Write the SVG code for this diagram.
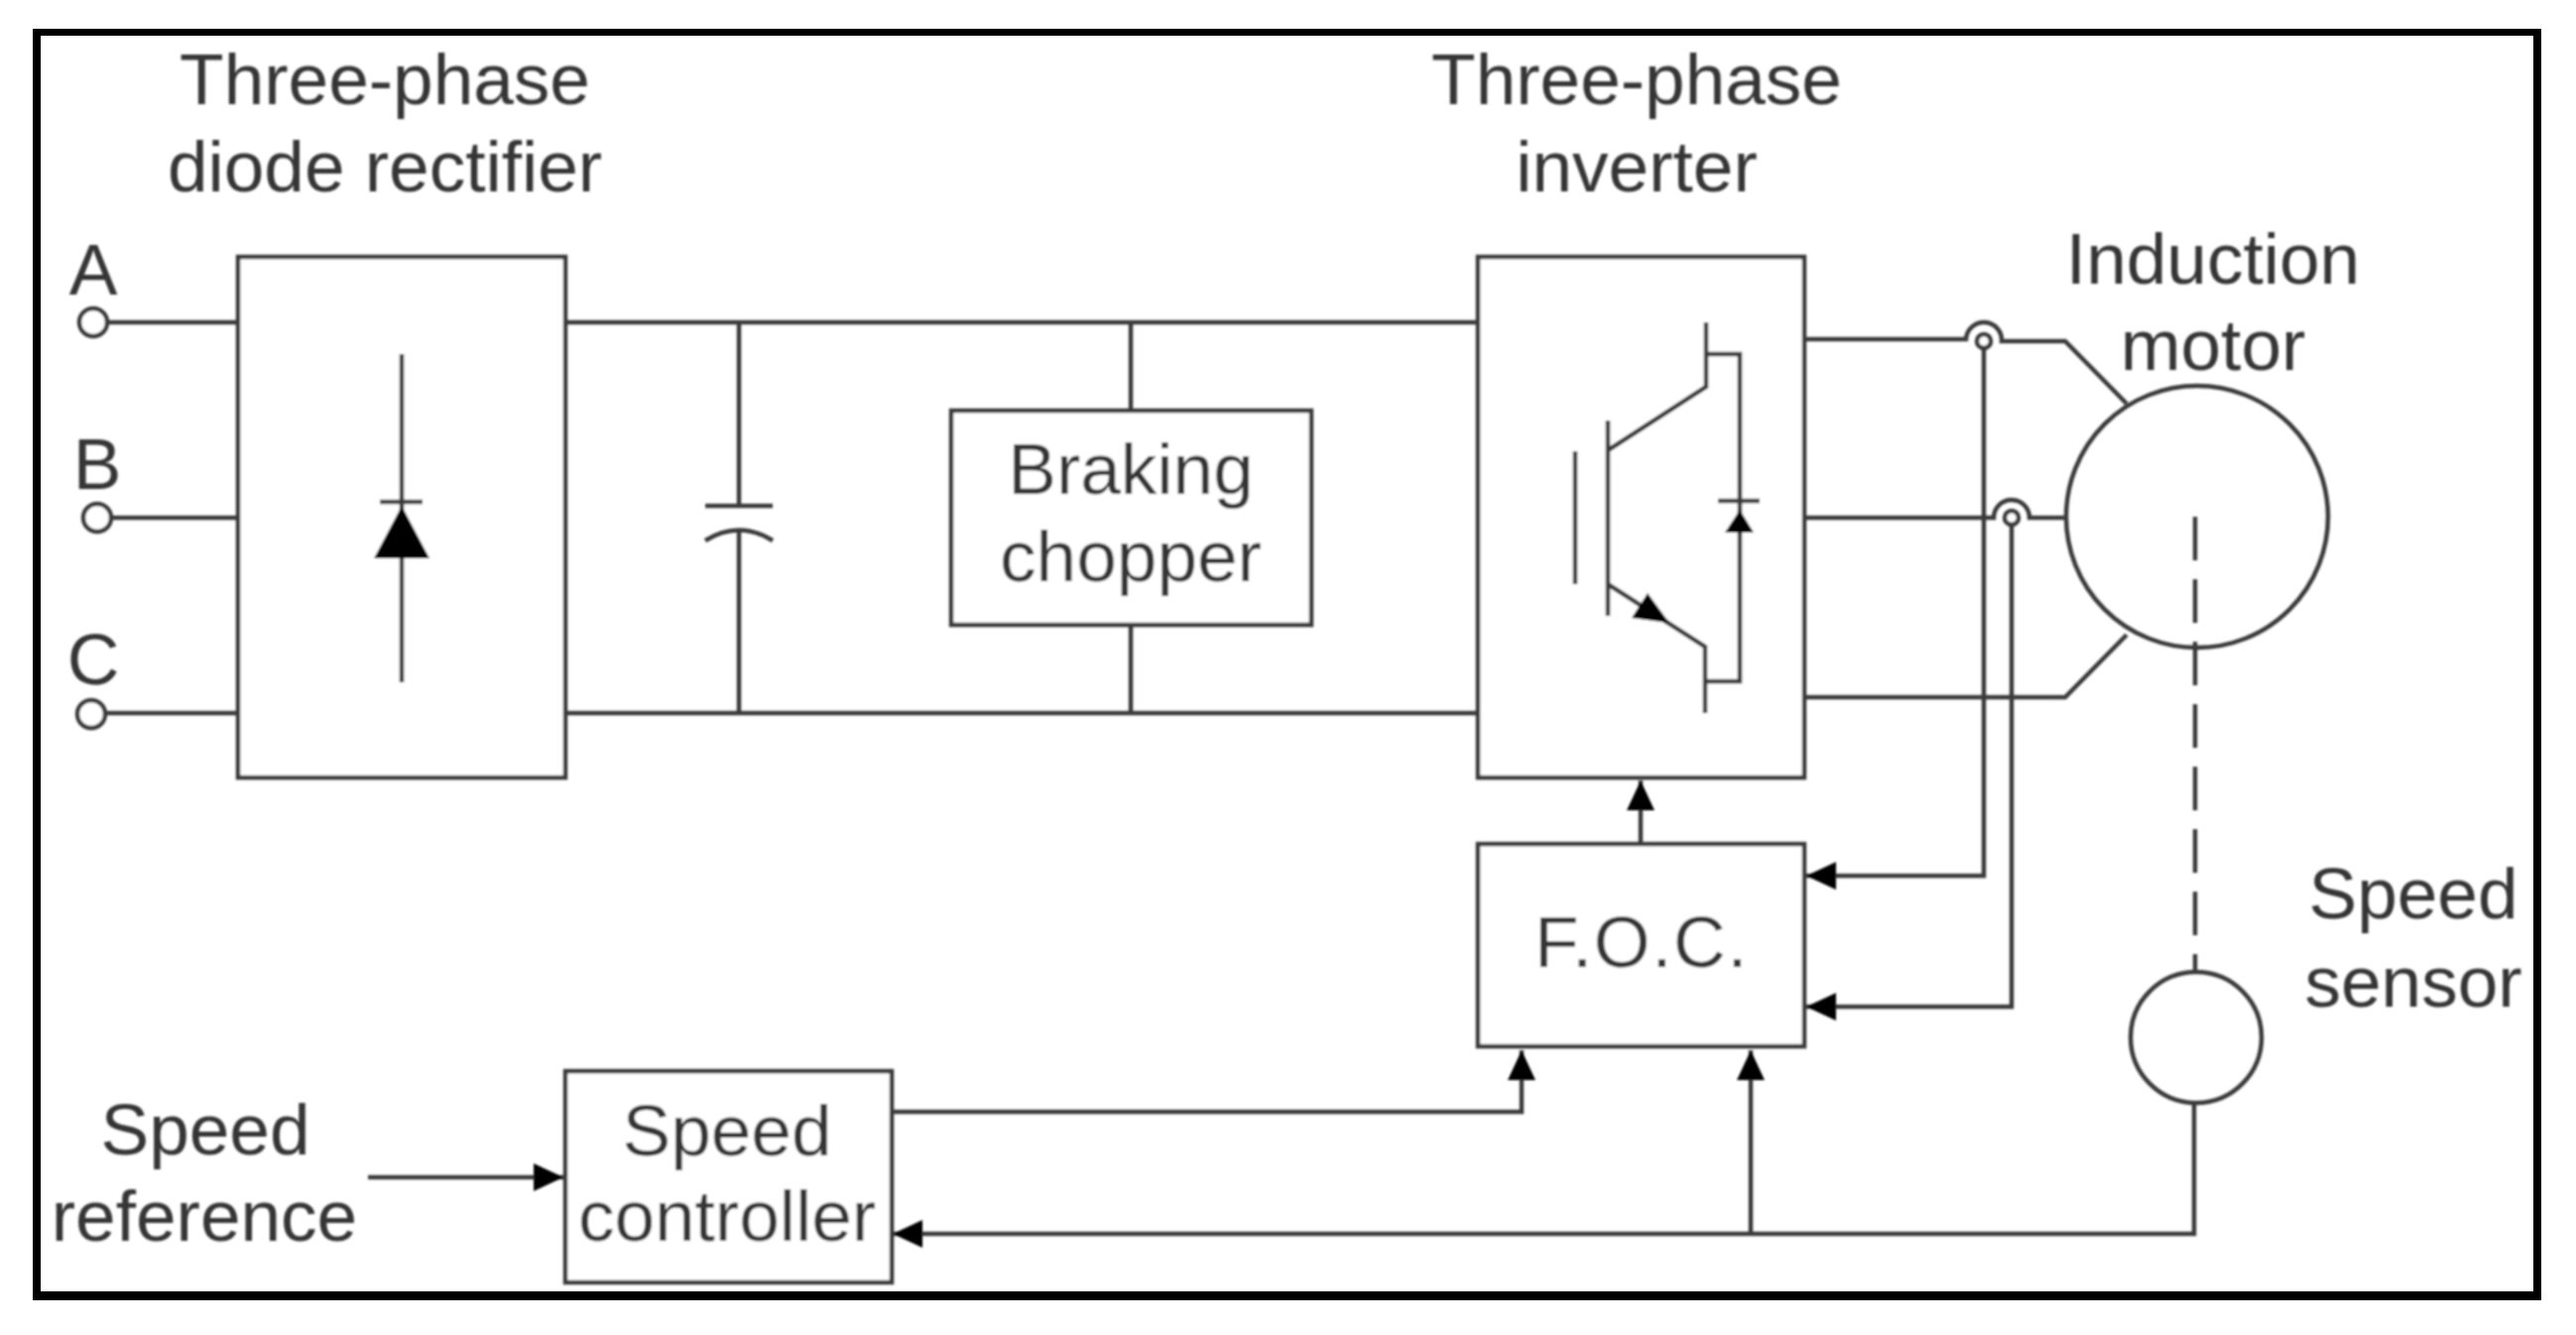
<svg xmlns="http://www.w3.org/2000/svg" width="2597" height="1346" viewBox="0 0 2597 1346">
<style>
text{font-family:"Liberation Sans",Arial,sans-serif;font-size:73px;fill:#363636;text-anchor:middle}
.b{fill:#fff;stroke:#3a3a3a;stroke-width:4.5}
.w{fill:none;stroke:#3a3a3a;stroke-width:4.5}
.t{fill:#fff;stroke:#3a3a3a;stroke-width:4.5}
.d{fill:#000;stroke:none}
</style>
<defs>
<filter id="soft" x="-2%" y="-2%" width="104%" height="104%"><feGaussianBlur stdDeviation="0.8"/></filter>
<marker id="arr" markerUnits="userSpaceOnUse" markerWidth="32" markerHeight="30" refX="30" refY="15" orient="auto"><path d="M0 1L30 15L0 29Z" fill="#000"/></marker>
</defs>
<rect width="2597" height="1346" fill="#fff"/>
<g id="frame">
<rect x="33" y="29" width="2529" height="1282" fill="#000"/>
<rect x="41" y="36" width="2513" height="1266" fill="#fff"/>
</g>
<g filter="url(#soft)" transform="translate(0 2)">
<g id="connectors">
<path class="w" d="M107 323H240M111 520H240M105 717H240"/>
<path class="w" d="M570 323H1490M570 717H1490"/>
<path class="w" d="M745 323V508M745 533V717M711 508H779"/>
<path class="w" d="M711 543Q745 522 779 543"/>
<path class="w" d="M1140 323V412M1140 629V717"/>
<path class="w" d="M1819 340H1982A18 18 0 0 1 2018 342H2082L2144 405"/>
<path class="w" d="M1819 520H2010A18 18 0 0 1 2046 520H2083"/>
<path class="w" d="M1819 701H2082L2144 638"/>
<path class="w" marker-end="url(#arr)" d="M2000 349V881H1821"/>
<path class="w" marker-end="url(#arr)" d="M2028 527V1013H1821"/>
<path class="w" marker-end="url(#arr)" d="M1654 849V785"/>
<path class="w" marker-end="url(#arr)" d="M371 1185H568"/>
<path class="w" marker-end="url(#arr)" d="M899 1119H1534V1057"/>
<path class="w" marker-end="url(#arr)" d="M2212 1111V1242H900"/>
<path class="w" marker-end="url(#arr)" d="M1765 1242V1057"/>
<path class="w" stroke-dasharray="44 19" d="M2213 519V979"/>
<circle class="t" cx="2000" cy="342" r="7"/>
<circle class="t" cx="2028" cy="520" r="7"/>
</g>
<g id="terminal-a"><circle class="t" cx="94" cy="323" r="14"/><text x="94" y="295">A</text></g>
<g id="terminal-b"><circle class="t" cx="98" cy="520" r="14"/><text x="98" y="491">B</text></g>
<g id="terminal-c"><circle class="t" cx="92" cy="718" r="14"/><text x="94" y="688">C</text></g>
<g id="rectifier">
<rect class="b" x="240" y="257" width="330" height="525"/>
<path class="w" d="M405 355V686M383 504H426"/>
<path class="d" d="M405 508L433 561H377Z"/>
<text x="388" y="103">Three-phase</text>
<text x="388" y="191">diode rectifier</text>
</g>
<g id="braking-chopper">
<rect class="b" x="959" y="412" width="363" height="216"/>
<text x="1140" y="496">Braking</text>
<text x="1140" y="584">chopper</text>
</g>
<g id="inverter">
<rect class="b" x="1490" y="257" width="329" height="525"/>
<path class="w" d="M1588 453V587M1621 422V619M1621 452L1720 388V323M1720 355H1754V685H1719M1621 587L1719 650V717M1732 503H1774"/>
<path class="d" d="M1754 512L1768 535H1739Z"/>
<path class="d" d="M1683 626L1661 596L1645 621Z"/>
<text x="1650" y="103">Three-phase</text>
<text x="1650" y="191">inverter</text>
</g>
<g id="motor">
<circle class="w" cx="2215" cy="519" r="132"/>
<text x="2231" y="284">Induction</text>
<text x="2231" y="371">motor</text>
</g>
<g id="foc">
<rect class="b" x="1490" y="849" width="329" height="204"/>
<text x="1655" y="973" letter-spacing="1.5">F.O.C.</text>
</g>
<g id="speed-controller">
<rect class="b" x="570" y="1078" width="329" height="213"/>
<text x="733" y="1163">Speed</text>
<text x="733" y="1249">controller</text>
</g>
<g id="speed-sensor">
<circle class="w" cx="2214" cy="1044" r="66"/>
<text x="2433" y="924">Speed</text>
<text x="2433" y="1013">sensor</text>
</g>
<g id="speed-reference">
<text x="207" y="1162">Speed</text>
<text x="206" y="1249">reference</text>
</g>
</g>
</svg>
